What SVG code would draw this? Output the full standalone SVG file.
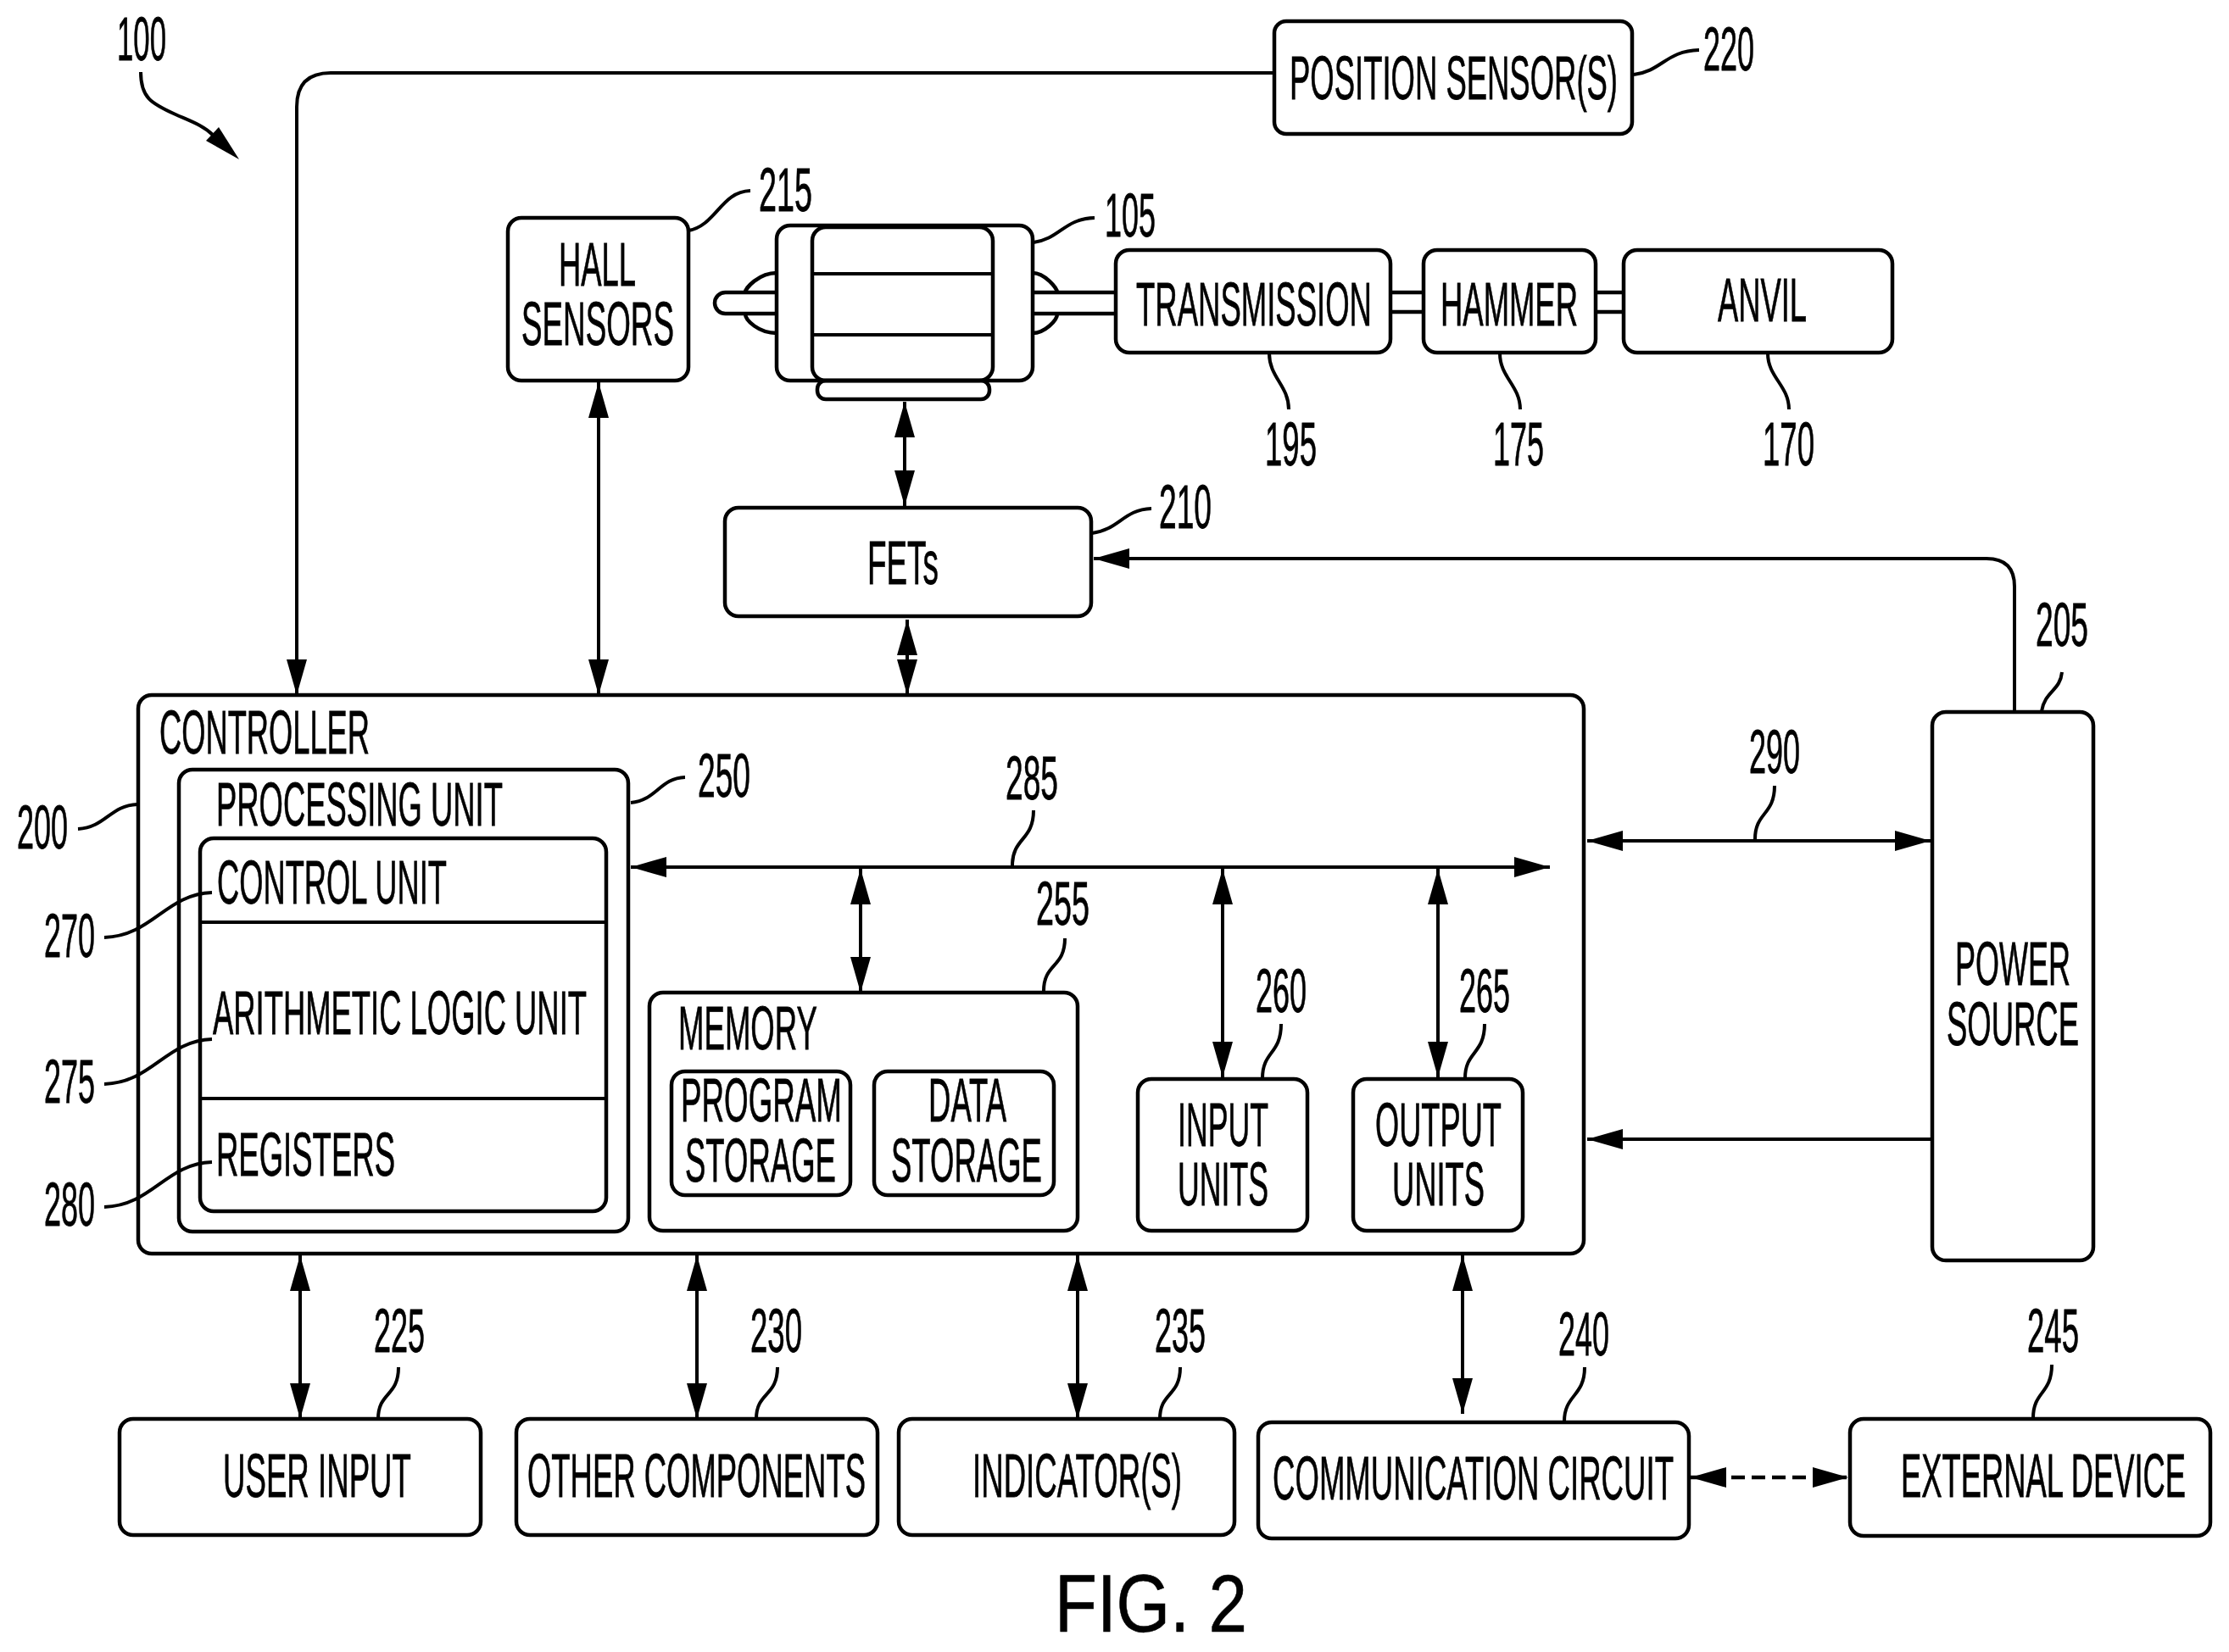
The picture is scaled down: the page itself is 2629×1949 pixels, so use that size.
<svg xmlns="http://www.w3.org/2000/svg" width="2629" height="1949" viewBox="0 0 2629 1949">
<defs>
<marker id="ah" markerUnits="userSpaceOnUse" markerWidth="44" markerHeight="26" refX="42" refY="13" orient="auto-start-reverse"><path d="M0 1L42 13L0 25Z" fill="#000"/></marker>
</defs>
<style>
.b{fill:none;stroke:#000;stroke-width:4.5}
.l{fill:none;stroke:#000;stroke-width:4}
.a{fill:none;stroke:#000;stroke-width:4;marker-end:url(#ah)}
.d{fill:none;stroke:#000;stroke-width:4;marker-end:url(#ah);marker-start:url(#ah)}
text{font-family:"Liberation Sans",Arial,sans-serif;font-size:73px;fill:#000;stroke:#000;stroke-width:.6;vector-effect:non-scaling-stroke;transform:scale(.5,1)}
.n{font-size:72px}
.f{font-size:96px;transform:none}
</style>
<rect width="2629" height="1949" fill="#fff"/>
<g id="connectors">
<path class="a" d="M1503 86H390Q350 86 350 126V820"/>
<path class="d" d="M706 451V820"/>
<path class="d" d="M1067 474V597"/>
<path class="d" d="M1070 731V820"/>
<path class="a" d="M2376 840V692Q2376 659 2343 659H1290"/>
<path class="d" d="M1872 992H2277"/>
<path class="a" d="M2279 1344H1872"/>
<path class="d" d="M744 1023H1828"/>
<path class="d" d="M1015 1025V1171"/>
<path class="d" d="M1442 1025V1271"/>
<path class="d" d="M1696 1025V1271"/>
<path class="d" d="M354 1481V1674"/>
<path class="d" d="M822 1481V1674"/>
<path class="d" d="M1271 1481V1674"/>
<path class="d" d="M1725 1481V1668"/>
<path class="d" style="stroke-width:4.500;stroke-dasharray:16 8" d="M1994 1743H2180"/>
<path class="l" d="M166 85C166 115 178 122 207 135C225 143 240 148 252 160"/>
<path d="M282 188L243 166L258 150Z" fill="#000"/>
<path class="l" d="M1927 88C1960 84 1965 60 2004 59"/>
<path class="l" d="M812 272C845 266 850 226 885 225"/>
<path class="l" d="M1219 286C1250 282 1255 258 1291 257"/>
<path class="l" d="M1497 417C1497 445 1520 455 1520 483"/>
<path class="l" d="M1769 417C1769 445 1793 455 1793 483"/>
<path class="l" d="M2085 417C2085 445 2110 455 2110 483"/>
<path class="l" d="M1288 629C1320 625 1325 601 1358 600"/>
<path class="l" d="M2408 839C2412 815 2430 815 2432 793"/>
<path class="l" d="M2070 990C2070 958 2093 962 2093 927"/>
<path class="l" d="M1194 1021C1194 988 1219 992 1219 956"/>
<path class="l" d="M744 947C775 944 778 918 808 917"/>
<path class="l" d="M1231 1169C1231 1136 1256 1142 1256 1107"/>
<path class="l" d="M1489 1272C1489 1240 1511 1244 1511 1208"/>
<path class="l" d="M1728 1272C1728 1240 1751 1244 1751 1208"/>
<path class="l" d="M92 978C125 976 130 950 162 949"/>
<path class="l" d="M123 1106C180 1104 195 1055 250 1053"/>
<path class="l" d="M123 1279C180 1277 195 1228 250 1226"/>
<path class="l" d="M123 1424C180 1422 195 1373 250 1371"/>
<path class="l" d="M446 1674C446 1642 470 1648 470 1613"/>
<path class="l" d="M892 1674C892 1642 917 1648 917 1613"/>
<path class="l" d="M1368 1674C1368 1642 1392 1648 1392 1613"/>
<path class="l" d="M1845 1677C1845 1645 1869 1648 1869 1613"/>
<path class="l" d="M2398 1673C2398 1641 2420 1645 2420 1610"/>
</g>
<g id="position-sensors"><rect class="b" x="1503" y="25" width="422" height="133" rx="14"/><text x="3042" y="117" textLength="774" lengthAdjust="spacingAndGlyphs">POSITION SENSOR(S)</text></g>
<g id="hall-sensors"><rect class="b" x="599" y="257" width="213" height="192" rx="16"/><text x="1318" y="337" textLength="182" lengthAdjust="spacingAndGlyphs">HALL</text><text x="1230" y="407" textLength="360" lengthAdjust="spacingAndGlyphs">SENSORS</text></g>
<g id="motor">
<path class="b" d="M916 345H855.500A12.500 12.500 0 0 0 855.500 370H916"/>
<path class="b" d="M916 322C895 322 879 340 879 345M879 370C879 378 895 393 916 393"/>
<path class="b" d="M1218 322C1232 322 1247 340 1247 345M1247 370C1247 378 1232 393 1218 393"/>
<path class="b" d="M1218 345H1316M1218 370H1316"/>
<rect class="b" x="916" y="266" width="302" height="183" rx="16"/>
<rect class="b" x="958" y="268" width="213" height="181" rx="16"/>
<path class="l" d="M958 323H1171M958 395H1171"/>
<rect class="b" x="964" y="449" width="203" height="22" rx="10"/>
</g>
<g id="transmission"><rect class="b" x="1316" y="295" width="324" height="121" rx="16"/><text x="2680" y="384" textLength="556" lengthAdjust="spacingAndGlyphs">TRANSMISSION</text></g>
<g id="hammer"><path class="b" d="M1640 345H1679M1640 368H1679"/><rect class="b" x="1679" y="295" width="203" height="121" rx="16"/><text x="3398" y="384" textLength="324" lengthAdjust="spacingAndGlyphs">HAMMER</text></g>
<g id="anvil"><path class="b" d="M1882 345H1915M1882 368H1915"/><rect class="b" x="1915" y="295" width="317" height="121" rx="16"/><text x="4052" y="379" textLength="210" lengthAdjust="spacingAndGlyphs">ANVIL</text></g>
<g id="fets"><rect class="b" x="855" y="599" width="432" height="128" rx="16"/><text x="2046" y="689" textLength="168" lengthAdjust="spacingAndGlyphs">FETs</text></g>
<g id="power-source"><rect class="b" x="2279" y="840" width="190" height="647" rx="16"/><text x="4612" y="1162" textLength="272" lengthAdjust="spacingAndGlyphs">POWER</text><text x="4592" y="1233" textLength="312" lengthAdjust="spacingAndGlyphs">SOURCE</text></g>
<g id="controller"><rect class="b" x="163" y="820" width="1705" height="659" rx="16"/><text x="376" y="889" textLength="496" lengthAdjust="spacingAndGlyphs">CONTROLLER</text></g>
<g id="processing-unit"><rect class="b" x="211" y="908" width="530" height="545" rx="16"/><text x="510" y="974" textLength="676" lengthAdjust="spacingAndGlyphs">PROCESSING UNIT</text>
<rect class="b" x="236" y="989" width="479" height="440" rx="16"/><path class="l" d="M236 1088H715M236 1296H715"/>
<text x="512" y="1066" textLength="542" lengthAdjust="spacingAndGlyphs">CONTROL UNIT</text><text x="502" y="1220" textLength="882" lengthAdjust="spacingAndGlyphs">ARITHMETIC LOGIC UNIT</text><text x="510" y="1387" textLength="422" lengthAdjust="spacingAndGlyphs">REGISTERS</text></g>
<g id="memory"><rect class="b" x="766" y="1171" width="505" height="281" rx="16"/><text x="1600" y="1238" textLength="328" lengthAdjust="spacingAndGlyphs">MEMORY</text>
<rect class="b" x="792" y="1264" width="211" height="146" rx="16"/><text x="1606" y="1323" textLength="380" lengthAdjust="spacingAndGlyphs">PROGRAM</text><text x="1616" y="1394" textLength="356" lengthAdjust="spacingAndGlyphs">STORAGE</text>
<rect class="b" x="1031" y="1264" width="212" height="146" rx="16"/><text x="2190" y="1323" textLength="184" lengthAdjust="spacingAndGlyphs">DATA</text><text x="2102" y="1394" textLength="356" lengthAdjust="spacingAndGlyphs">STORAGE</text></g>
<g id="input-units"><rect class="b" x="1342" y="1273" width="200" height="179" rx="16"/><text x="2778" y="1352" textLength="214" lengthAdjust="spacingAndGlyphs">INPUT</text><text x="2778" y="1422" textLength="214" lengthAdjust="spacingAndGlyphs">UNITS</text></g>
<g id="output-units"><rect class="b" x="1596" y="1273" width="200" height="179" rx="16"/><text x="3244" y="1352" textLength="298" lengthAdjust="spacingAndGlyphs">OUTPUT</text><text x="3284" y="1422" textLength="218" lengthAdjust="spacingAndGlyphs">UNITS</text></g>
<g id="user-input"><rect class="b" x="141" y="1674" width="426" height="137" rx="16"/><text x="526" y="1766" textLength="444" lengthAdjust="spacingAndGlyphs">USER INPUT</text></g>
<g id="other-components"><rect class="b" x="609" y="1674" width="426" height="137" rx="16"/><text x="1244" y="1766" textLength="798" lengthAdjust="spacingAndGlyphs">OTHER COMPONENTS</text></g>
<g id="indicators"><rect class="b" x="1060" y="1674" width="396" height="137" rx="16"/><text x="2294" y="1766" textLength="494" lengthAdjust="spacingAndGlyphs">INDICATOR(S)</text></g>
<g id="communication-circuit"><rect class="b" x="1484" y="1678" width="508" height="137" rx="16"/><text x="3002" y="1769" textLength="946" lengthAdjust="spacingAndGlyphs">COMMUNICATION CIRCUIT</text></g>
<g id="external-device"><rect class="b" x="2182" y="1674" width="425" height="138" rx="16"/><text x="4484" y="1766" textLength="672" lengthAdjust="spacingAndGlyphs">EXTERNAL DEVICE</text></g>
<g id="reference-numerals">
<text class="n" x="276" y="71" textLength="116" lengthAdjust="spacingAndGlyphs">100</text>
<text class="n" x="4018" y="83" textLength="120" lengthAdjust="spacingAndGlyphs">220</text>
<text class="n" x="1790" y="249" textLength="126" lengthAdjust="spacingAndGlyphs">215</text>
<text class="n" x="2606" y="279" textLength="120" lengthAdjust="spacingAndGlyphs">105</text>
<text class="n" x="2984" y="549" textLength="122" lengthAdjust="spacingAndGlyphs">195</text>
<text class="n" x="3522" y="549" textLength="120" lengthAdjust="spacingAndGlyphs">175</text>
<text class="n" x="4158" y="549" textLength="122" lengthAdjust="spacingAndGlyphs">170</text>
<text class="n" x="2734" y="623" textLength="124" lengthAdjust="spacingAndGlyphs">210</text>
<text class="n" x="4802" y="762" textLength="124" lengthAdjust="spacingAndGlyphs">205</text>
<text class="n" x="4126" y="912" textLength="120" lengthAdjust="spacingAndGlyphs">290</text>
<text class="n" x="2372" y="943" textLength="124" lengthAdjust="spacingAndGlyphs">285</text>
<text class="n" x="1646" y="940" textLength="124" lengthAdjust="spacingAndGlyphs">250</text>
<text class="n" x="2444" y="1091" textLength="126" lengthAdjust="spacingAndGlyphs">255</text>
<text class="n" x="2962" y="1194" textLength="120" lengthAdjust="spacingAndGlyphs">260</text>
<text class="n" x="3442" y="1194" textLength="120" lengthAdjust="spacingAndGlyphs">265</text>
<text class="n" x="40" y="1001" textLength="120" lengthAdjust="spacingAndGlyphs">200</text>
<text class="n" x="104" y="1129" textLength="120" lengthAdjust="spacingAndGlyphs">270</text>
<text class="n" x="104" y="1301" textLength="120" lengthAdjust="spacingAndGlyphs">275</text>
<text class="n" x="104" y="1446" textLength="120" lengthAdjust="spacingAndGlyphs">280</text>
<text class="n" x="882" y="1595" textLength="120" lengthAdjust="spacingAndGlyphs">225</text>
<text class="n" x="1770" y="1595" textLength="122" lengthAdjust="spacingAndGlyphs">230</text>
<text class="n" x="2724" y="1595" textLength="120" lengthAdjust="spacingAndGlyphs">235</text>
<text class="n" x="3676" y="1599" textLength="120" lengthAdjust="spacingAndGlyphs">240</text>
<text class="n" x="4782" y="1595" textLength="122" lengthAdjust="spacingAndGlyphs">245</text>
</g>
<text class="f" x="1244" y="1925" textLength="227" lengthAdjust="spacingAndGlyphs">FIG. 2</text>
</svg>
